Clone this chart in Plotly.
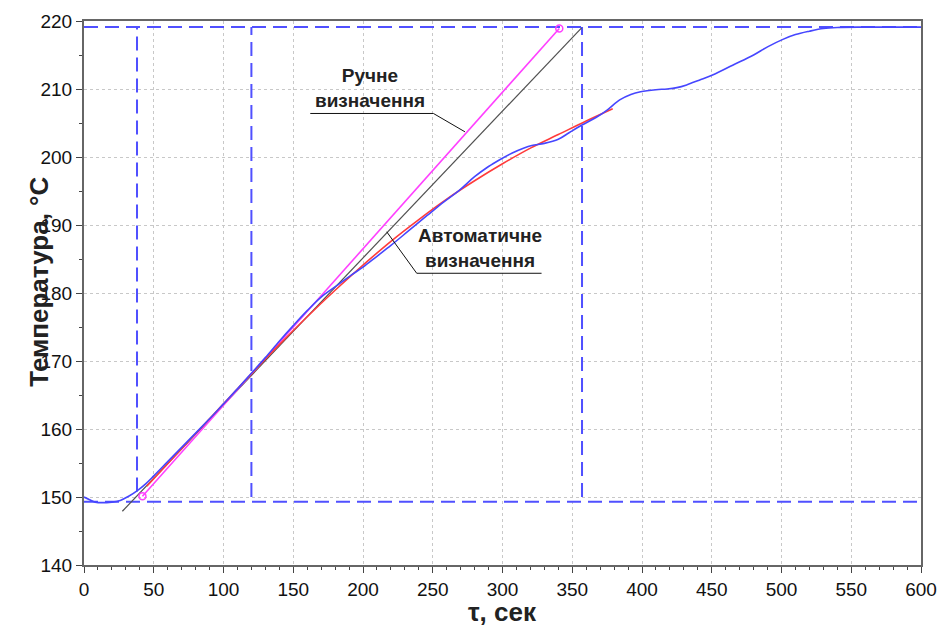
import plotly.graph_objects as go

# measured temperature curve
blue_x = [0, 4, 8, 20, 26, 32, 38, 44, 50, 60, 70, 80, 90, 100, 110, 120, 130, 140, 150, 160, 170, 182, 192,
          200, 210, 220, 233, 246, 258, 269, 280, 290, 298, 307, 315, 321, 330, 340, 348, 357, 367, 375, 384,
          392, 399, 410, 418, 425, 432, 441, 451, 465, 480, 490, 501, 510, 520, 530, 540, 560, 600]
blue_y = [150.0, 149.6, 149.25, 149.25, 149.5, 150.1, 150.9, 151.9, 153.1, 155.2, 157.3, 159.4, 161.5, 163.7,
          165.9, 168.2, 170.5, 172.9, 175.2, 177.4, 179.4, 181.2, 182.7, 183.8, 185.4, 187.0, 189.2, 191.4,
          193.4, 195.1, 197.1, 198.6, 199.6, 200.6, 201.3, 201.7, 202.0, 202.6, 203.6, 204.7, 205.8, 206.9,
          208.4, 209.2, 209.6, 209.9, 210.0, 210.2, 210.6, 211.3, 212.1, 213.5, 215.0, 216.2, 217.3, 218.0,
          218.5, 218.9, 219.05, 219.1, 219.1]

# automatic fit curve (red)
red_x = [45, 60, 80, 100, 120, 140, 160, 180, 200, 220, 240, 260, 280, 300, 320, 340, 360, 379]
red_y = [151.6, 154.9, 159.3, 163.7, 168.1, 172.4, 176.5, 180.4, 184.1, 187.6, 190.8, 193.8, 196.5, 199.0,
         201.3, 203.3, 205.3, 207.1]

# manual tangent (magenta) and automatic tangent (grey)
pink_x = [41.9, 340.7]
pink_y = [150.1, 218.9]
grey_x = [27.5, 356.7]
grey_y = [147.9, 219.0]

# reference dashed lines
h_levels = [149.3, 219.1]
v_x = [38, 120, 357]
v_low = [150.8, 150.0, 150.0]
v_top = 219.1

x_ticks = list(range(0, 601, 50))
y_ticks = list(range(140, 221, 10))

FONT = "Arial, Liberation Sans, sans-serif"
DASH_COLOR = "rgb(80,80,255)"
fig = go.Figure()

for yv in h_levels:
    fig.add_trace(go.Scatter(x=[0, 600], y=[yv, yv], mode="lines",
                             line=dict(color=DASH_COLOR, width=2, dash="14px,7px"),
                             hoverinfo="skip", showlegend=False))
for xv, lo in zip(v_x, v_low):
    fig.add_trace(go.Scatter(x=[xv, xv], y=[lo, v_top], mode="lines",
                             line=dict(color=DASH_COLOR, width=2, dash="14px,7px"),
                             hoverinfo="skip", showlegend=False))

fig.add_trace(go.Scatter(x=grey_x, y=grey_y, mode="lines",
                         line=dict(color="#505050", width=1.2), showlegend=False))
fig.add_trace(go.Scatter(x=pink_x, y=pink_y, mode="lines+markers",
                         line=dict(color="#ff40ff", width=1.6),
                         marker=dict(symbol="circle-open", size=7, color="#ff40ff", line=dict(width=1.5)),
                         showlegend=False))
fig.add_trace(go.Scatter(x=red_x, y=red_y, mode="lines", line_shape="spline",
                         line=dict(color="#ff3b3b", width=1.6), showlegend=False))
fig.add_trace(go.Scatter(x=blue_x, y=blue_y, mode="lines", line_shape="spline",
                         line=dict(color="rgb(70,70,255)", width=1.6), showlegend=False))

# leader lines for annotations
fig.add_shape(type="line", x0=162.2, y0=206.4, x1=250.5, y1=206.4, line=dict(color="#111", width=1))
fig.add_shape(type="line", x0=250.5, y0=206.4, x1=273.1, y1=203.7, line=dict(color="#111", width=1))
fig.add_shape(type="line", x0=238.5, y0=182.9, x1=328.0, y1=182.9, line=dict(color="#111", width=1))
fig.add_shape(type="line", x0=238.5, y0=182.9, x1=217.0, y1=189.0, line=dict(color="#111", width=1))

afont = dict(family=FONT, size=19, color="#222")
fig.add_annotation(x=204.8, y=210.1, text="<b>Ручне<br>визначення</b>", showarrow=False,
                   font=afont, align="center", yanchor="middle")
fig.add_annotation(x=284.0, y=186.6, text="<b>Автоматичне<br>визначення</b>", showarrow=False,
                   font=afont, align="center", yanchor="middle")

# axis titles
fig.add_annotation(xref="paper", yref="paper", x=-0.074, y=0.521, text="<b>Температура, °С</b>",
                   textangle=-90, showarrow=False,
                   font=dict(family=FONT, size=26, color="#222"))
fig.add_annotation(xref="paper", yref="paper", x=0.5, y=-0.086, yanchor="middle", text="<b>τ, сек</b>",
                   showarrow=False,
                   font=dict(family=FONT, size=26, color="#222"))

axis_common = dict(showline=True, linecolor="#666", linewidth=2, mirror=True,
                   showgrid=True, gridcolor="#c8c8c8", griddash="dot", gridwidth=1,
                   ticks="outside", ticklen=6, tickcolor="#444", tickwidth=1,
                   zeroline=False, automargin=False,
                   tickfont=dict(family=FONT, size=19, color="#111"))

fig.update_xaxes(range=[0, 600], tickvals=x_ticks, ticktext=[str(v) for v in x_ticks],
                 minor=dict(dtick=10, ticks="outside", ticklen=3, tickcolor="#444", showgrid=False),
                 **axis_common)
fig.update_yaxes(range=[140, 220], tickvals=y_ticks, ticktext=[str(v) for v in y_ticks],
                 minor=dict(dtick=5, ticks="outside", ticklen=3, tickcolor="#444", showgrid=False),
                 **axis_common)

fig.update_layout(width=941, height=627, margin=dict(l=84, r=20, t=21, b=62, autoexpand=False),
                  plot_bgcolor="white", paper_bgcolor="white", showlegend=False)

# remove the browser's default 8px body margin so the figure fills the window exactly
fig.write_html("out.html", config={"displayModeBar": False},
               post_script="document.body.style.margin='0px';document.body.style.overflow='hidden';")
